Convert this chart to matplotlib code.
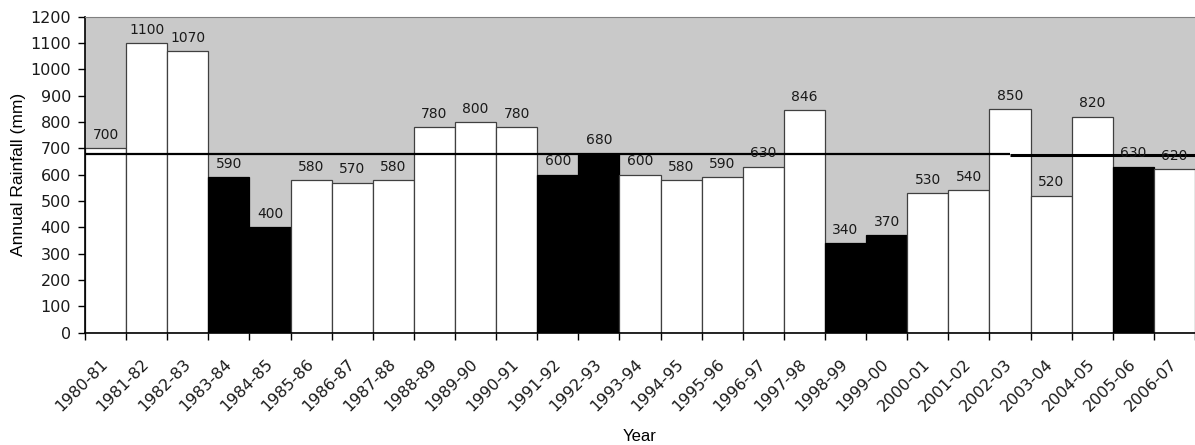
import matplotlib
matplotlib.use("Agg")
import matplotlib.pyplot as plt
import numpy as np

years = ["1980-81", "1981-82", "1982-83", "1983-84", "1984-85", "1985-86", "1986-87",
         "1987-88", "1988-89", "1989-90", "1990-91", "1991-92", "1992-93", "1993-94",
         "1994-95", "1995-96", "1996-97", "1997-98", "1998-99", "1999-00", "2000-01",
         "2001-02", "2002-03", "2003-04", "2004-05", "2005-06", "2006-07"]
rainfall = [700, 1100, 1070, 590, 400, 580, 570, 580, 780, 800, 780, 600, 680, 600,
            580, 590, 630, 846, 340, 370, 530, 540, 850, 520, 820, 630, 620]
drought_years = ["1983-84", "1984-85", "1991-92", "1992-93", "1998-99", "1999-00", "2005-06"]
# average line: two segments, split in the middle of 2002-03
avg_values = [677, 673]
avg_split_year = "2002-03"

W, H = 1195, 445
fig = plt.figure(figsize=(W / 100, H / 100), dpi=100)
ax = fig.add_axes([85 / W, (H - 332.7) / H, 1 - 85 / W, (332.7 - 16.7) / H])
ax.set_facecolor("#c9c9c9")

n = len(years)
x = np.arange(n)
colors = ["black" if y in drought_years else "white" for y in years]
edges = ["black" if y in drought_years else "#404040" for y in years]
ax.bar(x, rainfall, width=1.0, color=colors, edgecolor=edges, linewidth=0.9, zorder=2)

for xi, v in zip(x, rainfall):
    ax.text(xi, v + 24, str(v), ha="center", va="bottom", fontsize=10,
            family="DejaVu Sans", color="#1a1a1a", zorder=4)

si = years.index(avg_split_year)
ax.plot([-0.5, si], [avg_values[0]] * 2, color="black", lw=1.6, zorder=3,
        solid_capstyle="butt")
ax.plot([si, n - 0.5], [avg_values[1]] * 2, color="black", lw=2.2, zorder=3,
        solid_capstyle="butt")

ax.set_xlim(-0.5, n - 0.5)
ax.set_ylim(0, 1200)
ax.set_yticks(np.arange(0, 1201, 100))
ax.tick_params(axis="y", labelsize=11.5, length=5, width=1, direction="out", pad=5)
ax.set_xticks(x)
ax.set_xticklabels(years, rotation=45, ha="right", va="center", rotation_mode="anchor",
                   fontsize=11.5)
ax.tick_params(axis="x", length=0, pad=21)
ax.set_xticks(np.arange(-0.5, n, 1.0), minor=True)
ax.tick_params(axis="x", which="minor", length=5, width=1, direction="out")
for lab in ax.get_yticklabels() + ax.get_xticklabels():
    lab.set_family("DejaVu Sans")
    lab.set_color("#1a1a1a")

ax.spines["left"].set_color("black")
ax.spines["bottom"].set_color("black")
ax.spines["left"].set_linewidth(1.2)
ax.spines["bottom"].set_linewidth(1.2)
ax.spines["top"].set_color("#808080")
ax.spines["top"].set_linewidth(0.8)
ax.spines["right"].set_visible(False)

ax.set_ylabel("Annual Rainfall (mm)", fontsize=12.5, family="Liberation Sans")
ax.yaxis.set_label_coords(-59 / (W - 85), 0.5)
ax.set_xlabel("Year", fontsize=12, family="Liberation Sans")
ax.xaxis.set_label_coords(0.5, -0.305)

fig.savefig("out.png", dpi=100)
